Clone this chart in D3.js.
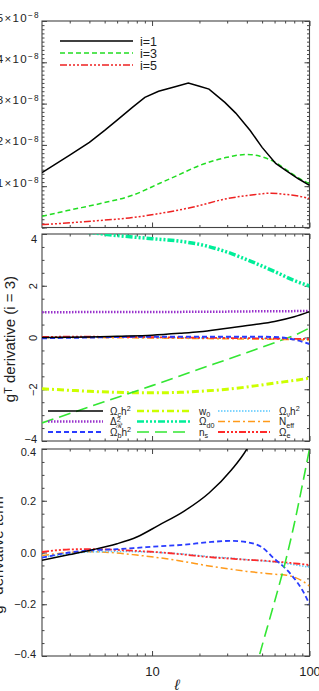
<!DOCTYPE html>
<html>
<head>
<meta charset="utf-8">
<script src="https://cdn.jsdelivr.net/npm/d3@7"></script>
<style>
body { margin: 0; background: #fff; }
svg { display: block; font-family: "Liberation Sans", Arial, sans-serif; }
</style>
</head>
<body>
<svg id="chart" width="319" height="691"></svg>
<script>
// ---- top panel: g^T for i = 1, 3, 5 (units of 1e-8)
var ellA = [2, 3, 4, 5, 6, 7.5, 9, 11, 14, 17, 20, 23, 29, 34, 42, 50, 61, 71, 85, 100];
var gI1  = [1.33, 1.75, 2.06, 2.35, 2.6, 2.91, 3.15, 3.30, 3.41, 3.50, 3.42, 3.35, 3.03, 2.77, 2.35, 1.94, 1.55, 1.38, 1.18, 1.02];
var ellB = [2, 2.9, 4.7, 7.5, 11.2, 14.3, 20, 30, 40, 48, 61, 71, 85, 100];
var gI3  = [0.27, 0.41, 0.58, 0.78, 1.07, 1.25, 1.50, 1.70, 1.77, 1.73, 1.57, 1.40, 1.20, 1.06];
var ellC = [2, 4.7, 7.5, 11.2, 18, 30, 41.5, 57, 71, 85, 100];
var gI5  = [0.07, 0.17, 0.24, 0.34, 0.49, 0.70, 0.78, 0.83, 0.80, 0.76, 0.70];

// ---- middle panel: g^T derivative (i = 3)
var ellD   = [2, 3, 4, 6, 10, 15, 20, 30, 45, 60, 80, 100];
var dOmc   = [0.0, 0.01, 0.02, 0.05, 0.09, 0.16, 0.22, 0.36, 0.5, 0.62, 0.8, 1.0];
var dDelta = [0.98, 0.98, 0.99, 0.99, 0.99, 0.99, 1.0, 1.0, 1.01, 1.01, 1.02, 1.03];
var dOmb   = [-0.03, -0.01, 0.0, 0.02, 0.03, 0.03, 0.03, 0.03, 0.03, 0.02, -0.08, -0.25];
var dW0    = [-1.98, -2.04, -2.08, -2.12, -2.14, -2.12, -2.08, -2.0, -1.87, -1.76, -1.66, -1.57];
var dOmd   = [4.22, 4.14, 4.06, 3.94, 3.82, 3.72, 3.6, 3.3, 2.88, 2.55, 2.2, 1.99];
var dNs    = [-3.3, -2.94, -2.68, -2.32, -1.86, -1.49, -1.22, -0.85, -0.47, -0.2, 0.08, 0.37];
var dOmnu  = [0.0, 0.0, 0.01, 0.01, 0.0, -0.01, -0.02, -0.02, -0.03, -0.04, -0.05, -0.06];
var dNeff  = [0.0, 0.0, 0.0, -0.01, -0.02, -0.03, -0.04, -0.05, -0.06, -0.07, -0.08, -0.1];
var dOme   = [0.02, 0.03, 0.03, 0.02, 0.01, 0.0, -0.01, -0.02, -0.03, -0.04, -0.05, -0.06];

// ---- bottom panel: g^T derivative term
var ellE  = [2, 3, 4, 6, 8, 11, 16, 23, 32, 40, 50, 60, 70, 80, 90, 100];
var tOmc  = [-0.03, -0.008, 0.008, 0.034, 0.06, 0.105, 0.16, 0.23, 0.32, 0.40, 0.52, 0.65, 0.78, 0.9, 1.0, 1.1];
var tOmb  = [-0.02, 0.0, 0.008, 0.013, 0.018, 0.024, 0.03, 0.04, 0.045, 0.04, 0.02, -0.025, -0.06, -0.1, -0.145, -0.2];
var tOme  = [0.002, 0.012, 0.013, 0.01, 0.006, 0.001, -0.008, -0.018, -0.024, -0.028, -0.031, -0.035, -0.038, -0.042, -0.045, -0.048];
var tOmnu = [-0.018, -0.005, 0.002, 0.004, 0.003, 0.0, -0.006, -0.016, -0.022, -0.028, -0.032, -0.037, -0.042, -0.047, -0.052, -0.057];
var tNeff = [-0.012, 0.0, 0.003, -0.002, -0.01, -0.02, -0.035, -0.052, -0.065, -0.073, -0.079, -0.084, -0.087, -0.095, -0.11, -0.13];
var ellNs = [45, 50, 60, 70, 80, 90, 100];
var tNs   = [-0.46, -0.36, -0.19, -0.04, 0.11, 0.26, 0.40];

var xMajor = [10, 100];
var xMinor = [3, 4, 5, 6, 7, 8, 9, 20, 30, 40, 50, 60, 70, 80, 90];

var DASH = "5,3", DOT = "1.5,1.5", DASHDOT = "7,3,2,3",
    DASH3DOT = "7,2,2,2,2,2,2,2", LONGDASH = "12,6";

var svg = d3.select("#chart");
var x0 = 42, x1 = 309.5;
var x = d3.scaleLog().domain([2, 100]).range([x0, x1]);

function zip(a, b) { return a.map(function(v, i) { return [v, b[i]]; }); }

function makePanel(top, bottom, ydom, yMajor, yMinor, fmt) {
    var y = d3.scaleLinear().domain(ydom).range([bottom, top]);
    var id = "clip" + top;
    svg.append("clipPath").attr("id", id).append("rect")
        .attr("x", x0).attr("y", top).attr("width", x1 - x0).attr("height", bottom - top);

    var ax = svg.append("g");
    var left = ax.append("g").attr("transform", "translate(" + x0 + ",0)")
        .call(d3.axisLeft(y).tickValues(yMajor).tickSize(-5).tickPadding(5).tickFormat(fmt));
    ax.append("g").attr("transform", "translate(" + x0 + ",0)")
        .call(d3.axisLeft(y).tickValues(yMinor).tickSize(-2.5).tickFormat(""));
    ax.append("g").attr("transform", "translate(" + x1 + ",0)")
        .call(d3.axisRight(y).tickValues(yMajor).tickSize(-5).tickFormat(""));
    ax.append("g").attr("transform", "translate(" + x1 + ",0)")
        .call(d3.axisRight(y).tickValues(yMinor).tickSize(-2.5).tickFormat(""));
    var bot = ax.append("g").attr("transform", "translate(0," + bottom + ")")
        .call(d3.axisBottom(x).tickValues(xMajor).tickSize(-5).tickFormat(""));
    ax.append("g").attr("transform", "translate(0," + bottom + ")")
        .call(d3.axisBottom(x).tickValues(xMinor).tickSize(-2.5).tickFormat(""));
    ax.append("g").attr("transform", "translate(0," + top + ")")
        .call(d3.axisTop(x).tickValues(xMajor).tickSize(-5).tickFormat(""));
    ax.append("g").attr("transform", "translate(0," + top + ")")
        .call(d3.axisTop(x).tickValues(xMinor).tickSize(-2.5).tickFormat(""));
    ax.selectAll(".domain").remove();
    ax.selectAll(".tick line").attr("stroke", "#444");
    left.selectAll("text").attr("font-family", null).attr("font-size", 11).attr("fill", "#222");

    svg.append("rect").attr("x", x0).attr("y", top)
        .attr("width", x1 - x0).attr("height", bottom - top)
        .attr("fill", "none").attr("stroke", "#444").attr("stroke-width", 1.1);

    var plot = svg.append("g").attr("clip-path", "url(#" + id + ")");
    return { y: y, plot: plot, left: left, bot: bot };
}

function drawLines(p, series, curve) {
    var line = d3.line()
        .x(function(d) { return x(d[0]); })
        .y(function(d) { return p.y(d[1]); })
        .curve(curve || d3.curveMonotoneX);
    p.plot.selectAll(null).data(series).enter().append("path")
        .attr("d", function(s) { return line(zip(s.ell, s.v)); })
        .attr("fill", "none")
        .attr("stroke", function(s) { return s.color; })
        .attr("stroke-width", function(s) { return s.w; })
        .attr("stroke-dasharray", function(s) { return s.dash; });
}

// rich text: parts = [[text, "sub"|"sup"|null, dx]]
function rich(text, parts) {
    var off = 0;
    parts.forEach(function(p) {
        var target = p[1] === "sub" ? 2.5 : (p[1] === "sup" ? -3.5 : 0);
        var ts = text.append("tspan").attr("dy", target - off).text(p[0]);
        if (target !== 0) ts.attr("font-size", "0.72em");
        if (p[2]) ts.attr("dx", p[2]);
        off = target;
    });
}

// ================= panel 1
var p1 = makePanel(21, 227.5, [0, 5], [0, 1, 2, 3, 4, 5],
    d3.range(0, 5.01, 0.1).map(function(v) { return +v.toFixed(1); }), function() { return ""; });
p1.left.selectAll(".tick text").each(function(d) {
    if (d === 0) return;
    var t = d3.select(this).attr("x", -2).attr("font-size", 11.5).attr("letter-spacing", 1.3);
    rich(t, [[d + "×10"], ["−8", "sup"]]);
});

var top1 = [
    { ell: ellA, v: gI1, color: "#000", w: 1.5, dash: null, label: "i=1" },
    { ell: ellB, v: gI3, color: "#22dd22", w: 1.5, dash: DASH, label: "i=3" },
    { ell: ellC, v: gI5, color: "#ee2222", w: 1.5, dash: DASH3DOT, label: "i=5" }
];
drawLines(p1, [top1[1], top1[2]]);
drawLines(p1, [top1[0]], d3.curveLinear);

var leg1 = svg.append("g");
top1.forEach(function(s, i) {
    var yy = 41 + i * 12;
    leg1.append("line").attr("x1", 60).attr("x2", 133).attr("y1", yy).attr("y2", yy)
        .attr("stroke", s.color).attr("stroke-width", s.w).attr("stroke-dasharray", s.dash);
    leg1.append("text").attr("x", 140).attr("y", yy + 4.5).attr("font-size", 12.5)
        .attr("fill", "#222").text(s.label);
});

// ================= panel 2
var p2 = makePanel(234, 441, [-4, 4], [-4, -2, 0, 2, 4],
    d3.range(-4, 4.01, 0.5), d3.format("d"));
p2.left.selectAll(".tick text").each(function(d) {
    var t = d3.select(this);
    if (d === 4) { t.attr("dy", "0.75em"); return; }
    if (d === -4) { t.attr("dy", "0.15em"); return; }
    t.attr("x", null).attr("dy", null).attr("text-anchor", "middle")
        .attr("transform", "translate(-5,0) rotate(-90)");
});

var mid = [
    { ell: ellD, v: dOmd,   color: "#00ee99", w: 3.5, dash: DASH3DOT, lab: [["Ω"], ["d0", "sub"]] },
    { ell: ellD, v: dW0,    color: "#ccff00", w: 3,   dash: DASHDOT,  lab: [["w"], ["0", "sub"]] },
    { ell: ellD, v: dNs,    color: "#33e633", w: 1.6, dash: LONGDASH, lab: [["n"], ["s", "sub"]] },
    { ell: ellD, v: dDelta, color: "#9933cc", w: 2.5, dash: DOT,      lab: [["Δ"], ["2", "sup"], ["ℛ", "sub", -5]] },
    { ell: ellD, v: dOmnu,  color: "#55c8ff", w: 1.5, dash: DOT,      lab: [["Ω"], ["ν", "sub"], ["h"], ["2", "sup"]] },
    { ell: ellD, v: dNeff,  color: "#ff9a1a", w: 1.5, dash: DASHDOT,  lab: [["N"], ["eff", "sub"]] },
    { ell: ellD, v: dOme,   color: "#ff2a2a", w: 1.8, dash: DASH3DOT, lab: [["Ω"], ["e", "sub"]] },
    { ell: ellD, v: dOmb,   color: "#2a3cff", w: 2,   dash: DASH,     lab: [["Ω"], ["b", "sub"], ["h"], ["2", "sup"]] },
    { ell: ellD, v: dOmc,   color: "#000",    w: 1.5, dash: null,     lab: [["Ω"], ["c", "sub"], ["h"], ["2", "sup"]] }
];
drawLines(p2, mid);

// legend: 3 columns x 3 rows
var legOrder = [[8, 3, 7], [1, 0, 2], [4, 5, 6]];
var colLine = [[48, 103], [137, 190], [218, 270]];
var colText = [110, 199, 279];
var rowY = [411, 421.5, 432];
var leg2 = svg.append("g");
legOrder.forEach(function(col, c) {
    col.forEach(function(k, r) {
        var s = mid[k];
        leg2.append("line").attr("x1", colLine[c][0]).attr("x2", colLine[c][1])
            .attr("y1", rowY[r]).attr("y2", rowY[r])
            .attr("stroke", s.color).attr("stroke-width", Math.min(s.w, 2.5))
            .attr("stroke-dasharray", s.dash);
        var t = leg2.append("text").attr("x", colText[c]).attr("y", rowY[r] + 3.5)
            .attr("font-size", 10).attr("fill", "#222");
        rich(t, s.lab);
    });
});

var yt2 = svg.append("text").attr("transform", "translate(15,339) rotate(-90)")
    .attr("text-anchor", "middle").attr("font-size", 15).attr("fill", "#222");
rich(yt2, [["g"], ["T", "sup"], [" derivative (i = 3)"]]);

// ================= panel 3
var p3 = makePanel(449, 656, [-0.4, 0.4], [-0.4, -0.2, 0, 0.2, 0.4],
    d3.range(-0.4, 0.401, 0.05).map(function(v) { return +v.toFixed(2); }), d3.format(".1f"));
p3.left.selectAll(".tick text").attr("x", -6).each(function(d) {
    if (d === 0.4) d3.select(this).attr("dy", "0.55em");
    if (d === -0.4) d3.select(this).attr("dy", "0.15em");
});

var bottomSeries = [
    { ell: ellE,  v: tNeff, color: "#ff9a1a", w: 1.5, dash: DASHDOT },
    { ell: ellE,  v: tOmnu, color: "#55c8ff", w: 1.5, dash: DOT },
    { ell: ellE,  v: tOme,  color: "#ff2a2a", w: 1.8, dash: DASH3DOT },
    { ell: ellE,  v: tOmb,  color: "#2a3cff", w: 1.8, dash: DASH },
    { ell: ellNs, v: tNs,   color: "#33e633", w: 1.6, dash: LONGDASH },
    { ell: ellE,  v: tOmc,  color: "#000",    w: 1.5, dash: null }
];
drawLines(p3, bottomSeries);

p3.bot.selectAll(".tick text").attr("font-family", null).attr("font-size", 13)
    .attr("fill", "#222").attr("dy", "1.3em").text(function(d) { return d; });

var yt3 = svg.append("text").attr("transform", "translate(2.5,555) rotate(-90)")
    .attr("text-anchor", "middle").attr("font-size", 15).attr("fill", "#222");
rich(yt3, [["g"], ["T", "sup"], [" derivative term"]]);

svg.append("text").attr("x", 177).attr("y", 690).attr("text-anchor", "middle")
    .attr("font-size", 15).attr("font-style", "italic").attr("fill", "#222").text("ℓ");
</script>
</body>
</html>
